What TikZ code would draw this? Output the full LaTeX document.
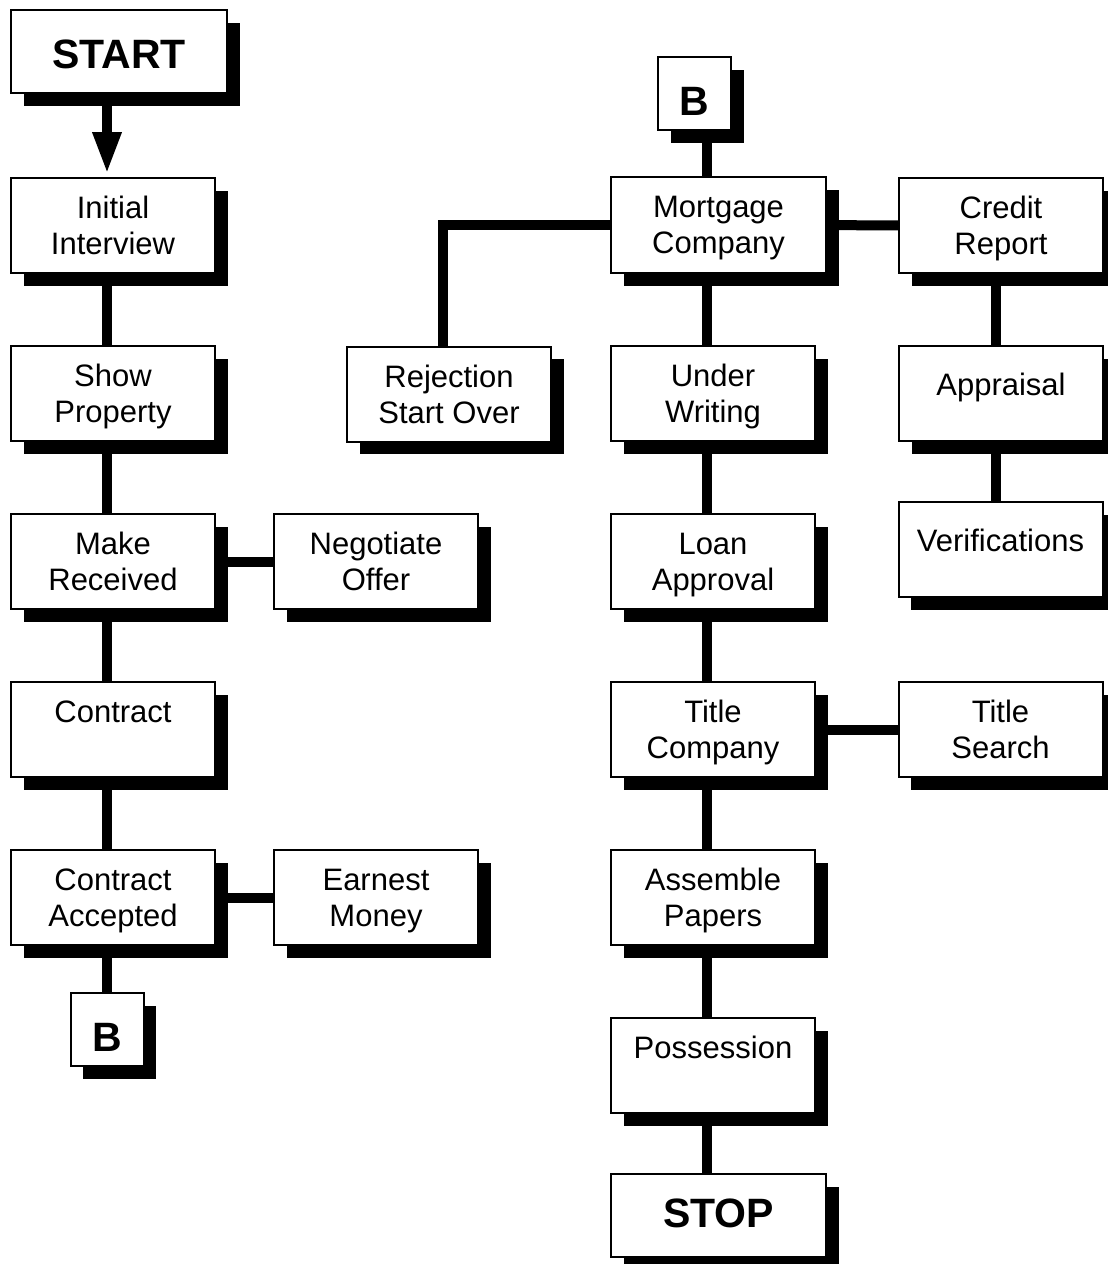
\documentclass[tikz,border=0pt]{standalone}
\usepackage{fontspec}
\setmainfont{Liberation Sans}
\usetikzlibrary{arrows.meta,shadows,backgrounds}

\tikzset{
  box/.style={draw,line width=1.5pt,fill=white,inner sep=0pt,
    minimum width=153pt,minimum height=71.25pt,align=center,
    font=\fontsize{23.25}{27}\selectfont,text depth=0pt,
    drop shadow={shadow xshift=9.4pt,shadow yshift=-9.4pt,opacity=1,fill=black}},
  onebox/.style={box,text height=10pt,text depth=7pt},
  termbox/.style={box,minimum width=162pt,minimum height=62.25pt,
    font=\fontsize{30.75}{36}\selectfont\bfseries},
  pagebox/.style={box,minimum width=54.75pt,minimum height=54.75pt,
    font=\fontsize{30.75}{36}\selectfont\bfseries,text height=33pt},
  link/.style={line width=7.5pt}
}

\begin{document}
\begin{tikzpicture}[x=0.75pt,y=-0.75pt]
\useasboundingbox (0,0) rectangle (1107,1264);

\node[termbox,text height=26pt] (start) at (119,51.5) {START};
\node[box] (init) at (113,225.5) {Initial\\Interview};
\node[box] (show) at (113,393.5) {Show\\Property};
\node[box] (make) at (113,561.5) {Make\\Received};
\node[box] (contract) at (113,729.5) {Contract\\\phantom{I}};
\node[box] (accepted) at (113,897.5) {Contract\\Accepted};
\node[pagebox] (bout) at (107,1029.5) {B};
\node[box] (nego) at (376,561.5) {Negotiate\\Offer};
\node[box] (earnest) at (376,897.5) {Earnest\\Money};

\node[pagebox] (bin) at (694.5,93.5) {B};
\node[box,minimum width=161.25pt,minimum height=72pt] (mortgage) at (718.5,225) {Mortgage\\Company};
\node[box] (reject) at (449,394) {Rejection\\Start Over};
\node[box] (under) at (713,393.5) {Under\\Writing};
\node[box] (loan) at (713,561.5) {Loan\\Approval};
\node[box] (titleco) at (713,729.5) {Title\\Company};
\node[box] (assemble) at (713,897.5) {Assemble\\Papers};
\node[box] (possession) at (713,1065.5) {Possession\\\phantom{I}};
\node[termbox,minimum width=161.25pt,text height=17.5pt] (stop) at (718.5,1215.5) {STOP};

\node[box] (credit) at (1001,225.5) {Credit\\Report};
\node[onebox] (appraisal) at (1001,393.5) {Appraisal};
\node[onebox] (verif) at (1000.5,549.5) {Verifications};
\node[box] (search) at (1000.5,729.5) {Title\\Search};

\coordinate (colL) at (107,0);
\coordinate (colR) at (707,0);
\coordinate (colC) at (995.5,0);
\coordinate (colJ) at (442.5,0);

\begin{scope}[on background layer]
\draw[link,-{Triangle[width=20pt,length=31.5pt]},shorten >=2.25pt] (start.south -| colL) -- (init.north -| colL);
\foreach \a/\b in {init/show,show/make,make/contract,contract/accepted,accepted/bout}
  \draw[link] (\a.south -| colL) -- (\b.north -| colL);
\foreach \a/\b in {bin/mortgage,mortgage/under,under/loan,loan/titleco,titleco/assemble,assemble/possession,possession/stop}
  \draw[link] (\a.south -| colR) -- (\b.north -| colR);
\draw[link] (credit.south -| colC) -- (appraisal.north -| colC);
\draw[link] (appraisal.south -| colC) -- (verif.north -| colC);
\draw[link] (make) -- (nego);
\draw[link] (accepted) -- (earnest);
\draw[link] (mortgage) -- (credit);
\draw[link] (titleco) -- (search);
\draw[link] (mortgage.west) -| (reject.north -| colJ);
\end{scope}
\end{tikzpicture}
\end{document}
